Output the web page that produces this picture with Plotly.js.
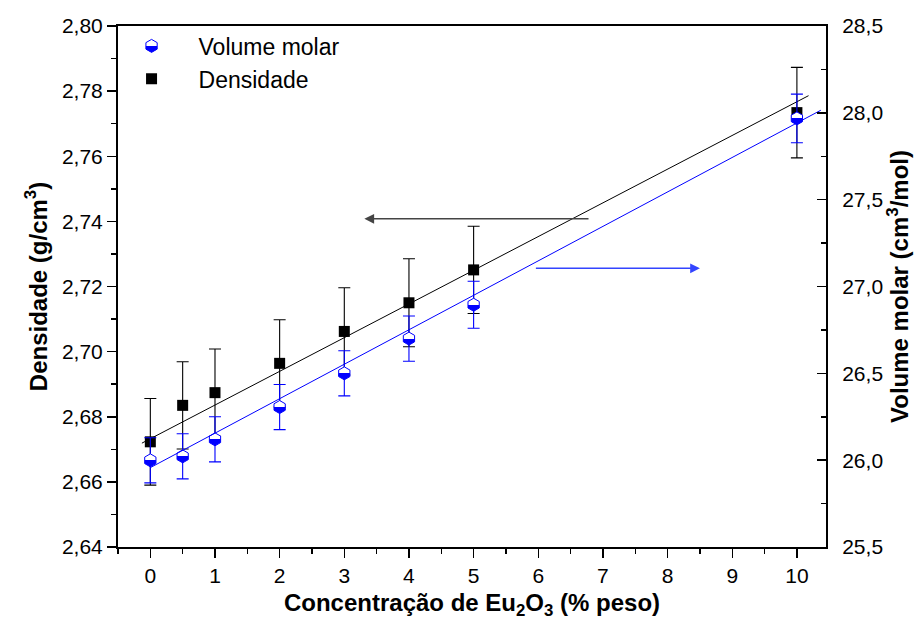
<!DOCTYPE html>
<html>
<head>
<meta charset="utf-8">
<script src="https://cdn.plot.ly/plotly-3.0.1.min.js"></script>
<style>html,body{margin:0;padding:0;background:#fff;}#chart{width:919px;height:625px;}</style>
</head>
<body>
<div id="chart"></div>
<script>
// Concentração de Eu2O3 (% peso)
const conc = [0, 0.5, 1, 2, 3, 4, 5, 10];
// Densidade (g/cm3) and error
const densidade = [2.6723, 2.6835, 2.6874, 2.6964, 2.7062, 2.7150, 2.7251, 2.7734];
const densidadeErr = [0.0133, 0.0134, 0.0134, 0.0134, 0.0134, 0.0135, 0.0134, 0.0139];
// Volume molar (cm3/mol) and error
const volumeMolar = [25.999, 26.022, 26.120, 26.306, 26.500, 26.700, 26.895, 27.968];
const volumeMolarErr = [0.13, 0.13, 0.13, 0.13, 0.13, 0.13, 0.135, 0.14];
// linear fit lines (end points)
const fitDensX = [-0.13, 10.18];
const fitDens = [2.6719, 2.7786];
const fitVolX = [0.0, 10.37];
const fitVol = [25.957, 28.015];
// tick labels
const xTicks = [0, 1, 2, 3, 4, 5, 6, 7, 8, 9, 10];
const seriesNames = ['Volume molar', 'Densidade'];

const FONT = 'Liberation Sans, Arial, sans-serif';
const BLUE = '#0000ff';

const traces = [
  {
    x: conc, y: densidade, type: 'scatter', mode: 'markers', name: seriesNames[1],
    xaxis: 'x', yaxis: 'y', legendrank: 2,
    marker: {symbol: 'square', size: 11, color: '#000'},
    error_y: {type: 'data', array: densidadeErr, visible: true, color: '#000', thickness: 1.1, width: 6}
  },
  {
    x: conc, y: volumeMolar, type: 'scatter', mode: 'markers', name: seriesNames[0],
    xaxis: 'x', yaxis: 'y2', legendrank: 1,
    marker: {symbol: 'hexagon', size: 13, color: BLUE, gradient: {type: 'vertical', color: '#ffffff'},
             line: {color: BLUE, width: 1}},
    error_y: {type: 'data', array: volumeMolarErr, visible: true, color: BLUE, thickness: 1.1, width: 6}
  },
  {
    x: fitDensX, y: fitDens, type: 'scatter', mode: 'lines', showlegend: false,
    xaxis: 'x', yaxis: 'y', line: {color: '#000', width: 1}
  },
  {
    x: fitVolX, y: fitVol, type: 'scatter', mode: 'lines', showlegend: false,
    xaxis: 'x', yaxis: 'y2', line: {color: BLUE, width: 1}
  }
];

const layout = {
  width: 919, height: 625,
  margin: {l: 118, r: 93, t: 26, b: 78},
  paper_bgcolor: '#fff', plot_bgcolor: '#fff',
  separators: ', ',
  font: {family: FONT, size: 21, color: '#000'},
  showlegend: true,
  legend: {x: -0.019, y: 1.003, xanchor: 'left', yanchor: 'top', bgcolor: 'rgba(0,0,0,0)',
           font: {family: FONT, size: 23, color: '#000'}, itemwidth: 84, tracegroupgap: 0},
  xaxis: {
    range: [-0.5, 10.45], tickvals: xTicks, ticktext: xTicks.map(String),
    ticks: 'outside', ticklen: 9, tickwidth: 1.5, tickcolor: '#000',
    minor: {dtick: 0.5, ticks: 'outside', ticklen: 5, tickwidth: 1.5, tickcolor: '#000'},
    showline: true, linecolor: '#000', linewidth: 2, mirror: true,
    showgrid: false, zeroline: false,
    tickfont: {family: FONT, size: 21},
    title: {text: '<b>Concentração de Eu<sub>2</sub>O<sub>3</sub> (% peso)</b>', font: {family: FONT, size: 24}, standoff: 8}
  },
  yaxis: {
    range: [2.64, 2.80], dtick: 0.02, tick0: 2.64, tickformat: '.2f',
    ticks: 'outside', ticklen: 9, tickwidth: 1.5, tickcolor: '#000',
    minor: {dtick: 0.01, ticks: 'outside', ticklen: 5, tickwidth: 1.5, tickcolor: '#000'},
    showline: true, linecolor: '#000', linewidth: 2,
    showgrid: false, zeroline: false,
    tickfont: {family: FONT, size: 21},
    title: {text: '<b>Densidade (g/cm<sup>3</sup>)</b>', font: {family: FONT, size: 24}, standoff: 8}
  },
  yaxis2: {
    overlaying: 'y', side: 'right',
    range: [25.5, 28.5], dtick: 0.5, tick0: 25.5, tickformat: '.1f',
    ticks: 'inside', ticklen: 9, tickwidth: 1.5, tickcolor: '#000',
    minor: {dtick: 0.25, ticks: 'inside', ticklen: 5, tickwidth: 1.5, tickcolor: '#000'},
    ticklabelstandoff: 10,
    showline: true, linecolor: '#000', linewidth: 2,
    showgrid: false, zeroline: false,
    tickfont: {family: FONT, size: 21},
    title: {text: '<b>Volume molar (cm<sup>3</sup>/mol)</b>', font: {family: FONT, size: 24}, standoff: 6}
  },
  annotations: [
    {x: 3.31, y: 2.7408, ax: 6.80, ay: 2.7408, xref: 'x', yref: 'y', axref: 'x', ayref: 'y',
     text: '', showarrow: true, arrowhead: 2, arrowsize: 1.3, arrowwidth: 1.5, arrowcolor: '#444'},
    {x: 8.50, y: 27.105, ax: 5.94, ay: 27.105, xref: 'x', yref: 'y2', axref: 'x', ayref: 'y2',
     text: '', showarrow: true, arrowhead: 2, arrowsize: 1.3, arrowwidth: 1.5, arrowcolor: '#3344ff'}
  ]
};

function sharpenHalfFill() {
  // turn the smooth vertical marker gradient into a crisp half-filled look (white top, blue bottom)
  document.querySelectorAll('#chart linearGradient').forEach(function (g) {
    while (g.firstChild) g.removeChild(g.firstChild);
    [[0, BLUE], [0.5, BLUE], [0.5, '#ffffff'], [1, '#ffffff']].forEach(function (s) {
      const st = document.createElementNS('http://www.w3.org/2000/svg', 'stop');
      st.setAttribute('offset', s[0]);
      st.setAttribute('stop-color', s[1]);
      st.setAttribute('stop-opacity', 1);
      g.appendChild(st);
    });
  });
}

Plotly.newPlot('chart', traces, layout, {displayModeBar: false, staticPlot: true}).then(sharpenHalfFill);
</script>
</body>
</html>
